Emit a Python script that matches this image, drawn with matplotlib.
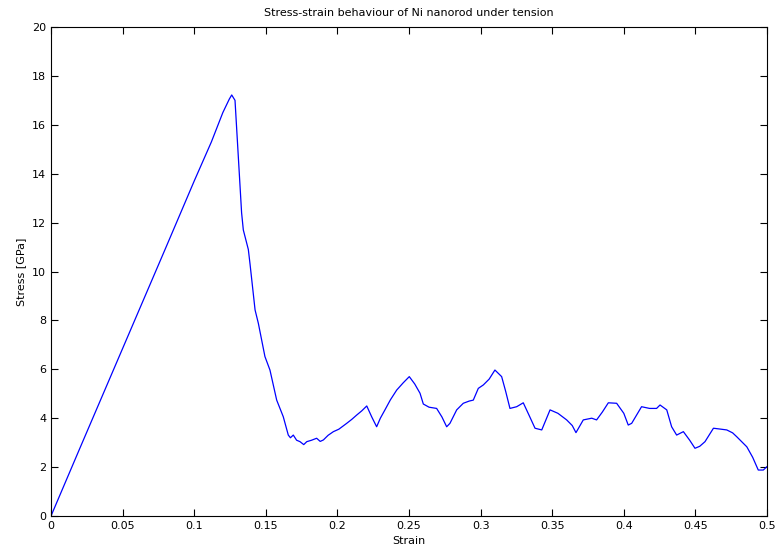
import numpy as np
import matplotlib.pyplot as plt

# strain / stress points
strain = [0.0, 0.02, 0.05, 0.08, 0.10, 0.112, 0.12, 0.1245, 0.1262, 0.1285, 0.1305,
          0.1331, 0.1343, 0.1378, 0.139, 0.1425, 0.1448, 0.1494, 0.1529, 0.1576,
          0.1622, 0.1657, 0.1672, 0.1692, 0.1715, 0.1739, 0.1765, 0.1786, 0.182, 0.1855,
          0.1880, 0.1902, 0.1935, 0.1972, 0.2010, 0.2065, 0.2100, 0.2135, 0.2170, 0.2205,
          0.2240, 0.2274, 0.2300, 0.2332, 0.2370, 0.2414, 0.2460, 0.2502, 0.2540, 0.2577,
          0.2600, 0.2640, 0.2693, 0.2730, 0.2763, 0.2786, 0.2833, 0.2879, 0.2920, 0.2949,
          0.2984, 0.3019, 0.3060, 0.3100, 0.3147, 0.3175, 0.3205, 0.3252, 0.3298, 0.3340,
          0.3380, 0.3427, 0.3485, 0.3540, 0.3601, 0.3640, 0.3666, 0.3717, 0.3776, 0.3810,
          0.3850, 0.3892, 0.3950, 0.4000, 0.4031, 0.4055, 0.4124, 0.4180, 0.4229, 0.4253,
          0.4300, 0.4334, 0.4369, 0.4416, 0.4460, 0.4497, 0.4530, 0.4567, 0.4626, 0.4680,
          0.4719, 0.4760, 0.4789, 0.4859, 0.4900, 0.4939, 0.4974, 0.5]
stress = [0.0, 2.75, 6.85, 10.95, 13.7, 15.3, 16.5, 17.05, 17.22, 17.0, 15.0,
          12.4, 11.7, 10.9, 10.3, 8.43, 7.88, 6.52, 5.97, 4.74,
          4.06, 3.31, 3.20, 3.31, 3.10, 3.04, 2.92, 3.04, 3.10, 3.18,
          3.05, 3.11, 3.30, 3.45, 3.55, 3.79, 3.95, 4.13, 4.30, 4.50,
          4.05, 3.65, 4.00, 4.34, 4.75, 5.15, 5.45, 5.70, 5.40, 5.02,
          4.58, 4.45, 4.40, 4.05, 3.65, 3.79, 4.34, 4.61, 4.70, 4.74,
          5.22, 5.36, 5.60, 5.97, 5.70, 5.10, 4.40, 4.47, 4.63, 4.10,
          3.59, 3.52, 4.34, 4.20, 3.93, 3.70, 3.41, 3.93, 4.00, 3.93,
          4.25, 4.63, 4.61, 4.20, 3.72, 3.79, 4.47, 4.40, 4.40, 4.54,
          4.34, 3.65, 3.31, 3.45, 3.10, 2.77, 2.85, 3.04, 3.59, 3.55,
          3.52, 3.40, 3.24, 2.83, 2.40, 1.88, 1.88, 2.02]

fig = plt.figure(figsize=(7.76, 5.55), dpi=100)
ax = fig.add_axes([51/776, 39/555, 716/776, 489/555])
ax.plot(strain, stress, color='#0000ff', lw=0.9)

ax.set_xlim(0, 0.5)
ax.set_ylim(0, 20)
ax.set_xticks(np.arange(0, 0.501, 0.05))
ax.set_xticklabels(['0', '0.05', '0.1', '0.15', '0.2', '0.25', '0.3', '0.35', '0.4', '0.45', '0.5'])
ax.set_yticks(np.arange(0, 21, 2))
ax.tick_params(direction='in', top=True, right=True, length=5, labelsize=8)
for s in ax.spines.values():
    s.set_linewidth(0.8)

ax.set_xlabel('Strain', fontsize=8)
ax.set_ylabel('Stress [GPa]', fontsize=8)
ax.set_title('Stress-strain behaviour of Ni nanorod under tension', fontsize=8, pad=8)

plt.savefig('out.png', dpi=100)
plt.close()
